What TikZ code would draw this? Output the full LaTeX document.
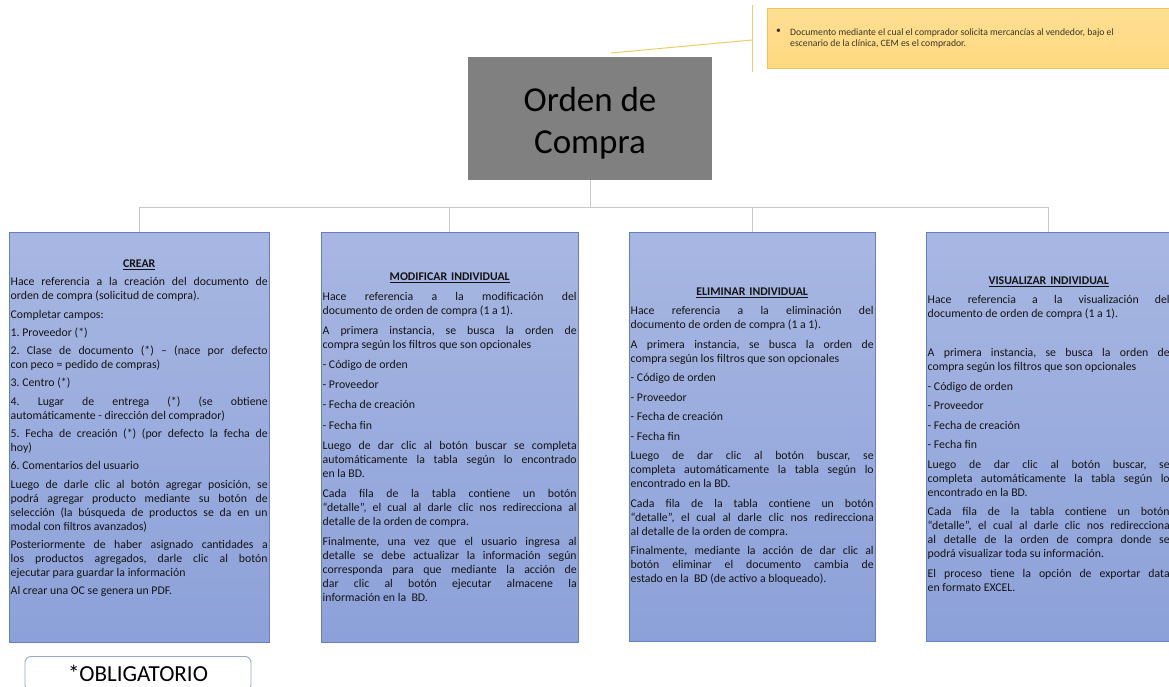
\documentclass[tikz,border=0pt]{standalone}
\usepackage{fontspec}
\setmainfont{Carlito}
\frenchspacing
\definecolor{boxtop}{RGB}{168,183,226}
\definecolor{boxbot}{RGB}{140,161,217}
\definecolor{boxborder}{RGB}{100,128,190}
\definecolor{linkgray}{RGB}{200,200,200}
\definecolor{titlegray}{RGB}{128,128,128}
\definecolor{notefill}{RGB}{255,217,128}
\definecolor{notebd}{RGB}{240,196,86}
\definecolor{calline}{RGB}{236,204,100}
\definecolor{notetxt}{RGB}{60,52,36}
\definecolor{obligbd}{RGB}{150,168,198}
\definecolor{bodytxt}{RGB}{20,20,20}
\newdimen\OCgapdim
\newcommand\OCjust[1]{\par\hbox to\hsize{\spaceskip=0pt\relax\xspaceskip=0pt\relax#1}}
\newcommand\OClast[1]{\par\hbox{\spaceskip=0pt\relax\xspaceskip=0pt\relax#1}}
\newcommand\OChead[1]{\par\hbox to\hsize{\hfil\textbf{\underline{#1}}\hfil}}
\newcommand\OCgap{\par\vskip\OCgapdim}
\tikzset{
  catbox/.style={draw=boxborder, line width=0.8pt, top color=boxtop, bottom color=boxbot, anchor=north west, inner sep=0pt},
  bodytext/.style={inner sep=0pt, anchor=north west, text width=#1, align=left, text=bodytxt, font=\fontsize{11.8}{14}\selectfont},
  link/.style={draw=linkgray, line width=0.9pt},
  titlebox/.style={fill=titlegray, minimum width=244pt, minimum height=123pt, inner sep=0pt},
  titletext/.style={inner sep=0pt, align=center, font=\fontsize{35}{42}\selectfont},
  notebox/.style={draw=notebd, line width=0.7pt, top color=notefill!85!white, bottom color=notefill, anchor=north west, minimum width=420pt, minimum height=60pt, inner sep=0pt},
  notetext/.style={inner sep=0pt, anchor=north west, align=left, text=notetxt, font=\fontsize{9.7}{11}\selectfont},
  callout/.style={draw=calline, line width=1pt},
  obligbox/.style={draw=obligbd, line width=0.9pt, rounded corners=6pt, fill=white, minimum width=226pt, minimum height=34pt, inner sep=0pt, anchor=north, font=\fontsize{23}{27}\selectfont}
}
\begin{document}
\begin{tikzpicture}[x=1pt,y=-1pt]
\useasboundingbox (0,0) rectangle (1169,686);
% note callout
\node[notebox] (note) at (767,8) {};
\node[notetext] (bullet) at (776,28.5) {•};
\node[notetext] (notetx) at (790,28.5) {Documento mediante el cual el comprador solicita mercancías al vendedor, bajo el\\escenario de la clínica, CEM es el comprador.};
\coordinate (ctop) at (752,5);
\coordinate (cbot) at (752,72);
\coordinate (cmid) at (752,40);
\coordinate (ctip) at (611,53);
\draw[callout] (ctop) -- (cbot);
\draw[callout] (cmid) -- (ctip);
% title
\node[titlebox] (title) at (590,118.5) {};
\node[titletext] (titleT) at (590,123) {Orden de\\Compra};
% boxes
\node[catbox, minimum width=260pt, minimum height=410pt] (crear) at (9,232) {};
\node[catbox, minimum width=257pt, minimum height=410pt] (modif) at (321,232) {};
\node[catbox, minimum width=246pt, minimum height=409pt] (elim) at (629,232) {};
\node[catbox, minimum width=244pt, minimum height=409pt] (visu) at (926,232) {};
% connectors
\coordinate (hub) at (590,207);
\draw[link] (title.south) -- (hub);
\draw[link] (hub) -| (crear.north);
\draw[link] (hub) -| (modif.north);
\draw[link] (hub) -| (elim.north);
\draw[link] (hub) -| (visu.north);
% texts
\node[bodytext=257pt] (crearT) at (10.5,253.2) {\OCgapdim=4.3pt
\OChead{CREAR}\OCgap
\OCjust{Hace referencia a la creación del documento de}
\OClast{orden de compra (solicitud de compra).}\OCgap
\OClast{Completar campos:}\OCgap
\OClast{1. Proveedor (*)}\OCgap
\OCjust{2. Clase de documento (*) – (nace por defecto}
\OClast{con peco = pedido de compras)}\OCgap
\OClast{3. Centro (*)}\OCgap
\OCjust{4. Lugar de entrega (*) (se obtiene}
\OClast{automáticamente - dirección del comprador)}\OCgap
\OCjust{5. Fecha de creación (*) (por defecto la fecha de}
\OClast{hoy)}\OCgap
\OClast{6. Comentarios del usuario}\OCgap
\OCjust{Luego de darle clic al botón agregar posición, se}
\OCjust{podrá agregar producto mediante su botón de}
\OCjust{selección (la búsqueda de productos se da en un}
\OClast{modal con filtros avanzados)}\OCgap
\OCjust{Posteriormente de haber asignado cantidades a}
\OCjust{los productos agregados, darle clic al botón}
\OClast{ejecutar para guardar la información}\OCgap
\OClast{Al crear una OC se genera un PDF.}};
\node[bodytext=254pt] (modifT) at (322.5,266.2) {\OCgapdim=6.1pt
\OChead{MODIFICAR INDIVIDUAL}\OCgap
\OCjust{Hace referencia a la modificación del}
\OClast{documento de orden de compra (1 a 1).}\OCgap
\OCjust{A primera instancia, se busca la orden de}
\OClast{compra según los filtros que son opcionales}\OCgap
\OClast{- Código de orden}\OCgap
\OClast{- Proveedor}\OCgap
\OClast{- Fecha de creación}\OCgap
\OClast{- Fecha fin}\OCgap
\OCjust{Luego de dar clic al botón buscar se completa}
\OCjust{automáticamente la tabla según lo encontrado}
\OClast{en la BD.}\OCgap
\OCjust{Cada fila de la tabla contiene un botón}
\OCjust{“detalle”, el cual al darle clic nos redirecciona al}
\OClast{detalle de la orden de compra.}\OCgap
\OCjust{Finalmente, una vez que el usuario ingresa al}
\OCjust{detalle se debe actualizar la información según}
\OCjust{corresponda para que mediante la acción de}
\OCjust{dar clic al botón ejecutar almacene la}
\OClast{información en la \ BD.}};
\node[bodytext=243pt] (elimT) at (630.5,281.2) {\OCgapdim=5.5pt
\OChead{ELIMINAR INDIVIDUAL}\OCgap
\OCjust{Hace referencia a la eliminación del}
\OClast{documento de orden de compra (1 a 1).}\OCgap
\OCjust{A primera instancia, se busca la orden de}
\OClast{compra según los filtros que son opcionales}\OCgap
\OClast{- Código de orden}\OCgap
\OClast{- Proveedor}\OCgap
\OClast{- Fecha de creación}\OCgap
\OClast{- Fecha fin}\OCgap
\OCjust{Luego de dar clic al botón buscar, se}
\OCjust{completa automáticamente la tabla según lo}
\OClast{encontrado en la BD.}\OCgap
\OCjust{Cada fila de la tabla contiene un botón}
\OCjust{“detalle”, el cual al darle clic nos redirecciona}
\OClast{al detalle de la orden de compra.}\OCgap
\OCjust{Finalmente, mediante la acción de dar clic al}
\OCjust{botón eliminar el documento cambia de}
\OClast{estado en la \ BD (de activo a bloqueado).}};
\node[bodytext=242pt] (visuT) at (927.5,270.2) {\OCgapdim=5.5pt
\OChead{VISUALIZAR INDIVIDUAL}\OCgap
\OCjust{Hace referencia a la visualización del}
\OClast{documento de orden de compra (1 a 1).}\OCgap
\par\vskip14pt\OCgap
\OCjust{A primera instancia, se busca la orden de}
\OClast{compra según los filtros que son opcionales}\OCgap
\OClast{- Código de orden}\OCgap
\OClast{- Proveedor}\OCgap
\OClast{- Fecha de creación}\OCgap
\OClast{- Fecha fin}\OCgap
\OCjust{Luego de dar clic al botón buscar, se}
\OCjust{completa automáticamente la tabla según lo}
\OClast{encontrado en la BD.}\OCgap
\OCjust{Cada fila de la tabla contiene un botón}
\OCjust{“detalle”, el cual al darle clic nos redirecciona}
\OCjust{al detalle de la orden de compra donde se}
\OClast{podrá visualizar toda su información.}\OCgap
\OCjust{El proceso tiene la opción de exportar data}
\OClast{en formato EXCEL.}};
% obligatorio
\node[obligbox] (oblig) at (138,656) {*OBLIGATORIO};
\end{tikzpicture}
\end{document}
